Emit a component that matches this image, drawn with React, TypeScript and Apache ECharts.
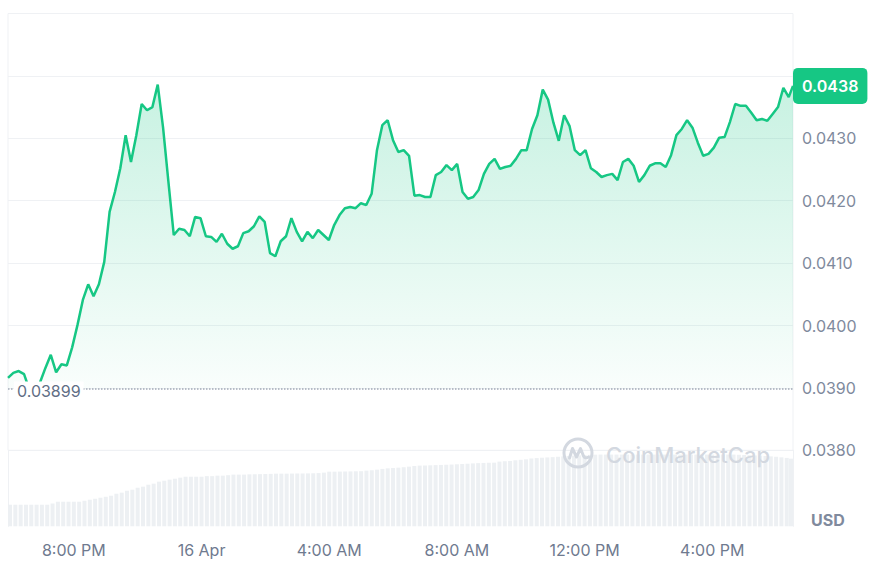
import React, { useEffect, useRef } from 'react';
import * as echarts from 'echarts';

const COLORS = {
  GREEN: '#16c784',
  GRID: '#eff1f4',
  LABEL: '#808a9d',
  DARK_LABEL: '#616e85',
  VOLUME: '#edf0f3',
  WATERMARK: '#d3d8e0',
};

// 15 Apr 18:00, one reading every 10 minutes, last reading at 18:28 next day
const START = new Date(2024, 3, 15, 18, 0).getTime();
const END = new Date(2024, 3, 16, 18, 28).getTime();
const STEP = 10 * 60 * 1000;
const MONTHS = ['Jan', 'Feb', 'Mar', 'Apr', 'May', 'Jun', 'Jul', 'Aug', 'Sep', 'Oct', 'Nov', 'Dec'];

const BASELINE = 0.03899;

const PRICE = [
  0.03916, 0.03924, 0.03927, 0.03922, 0.03897, 0.03893, 0.03909, 0.03932, 0.03953, 0.03925,
  0.03938, 0.03936, 0.03965, 0.04001, 0.04041, 0.04066, 0.04047, 0.04066, 0.04102, 0.04182,
  0.04214, 0.04252, 0.04305, 0.04262, 0.04305, 0.04355, 0.04345, 0.0435, 0.04386, 0.04317,
  0.0423, 0.04145, 0.04155, 0.04153, 0.04143, 0.04174, 0.04172, 0.04143, 0.04142, 0.04134,
  0.04147, 0.04131, 0.04123, 0.04127, 0.04148, 0.04151, 0.04159, 0.04175, 0.04166, 0.04116,
  0.04111, 0.04135, 0.04143, 0.04172, 0.0415, 0.04135, 0.0415, 0.0414, 0.04153, 0.04145,
  0.04137, 0.04161, 0.04177, 0.04188, 0.0419, 0.04188, 0.04196, 0.04193, 0.04211, 0.04281,
  0.04321, 0.04329, 0.04297, 0.04278, 0.04281, 0.04272, 0.04208, 0.04209, 0.04206, 0.04206,
  0.04241, 0.04246, 0.04257, 0.04249, 0.04259, 0.04214, 0.04203, 0.04206, 0.04217, 0.04243,
  0.04259, 0.04267, 0.04251, 0.04254, 0.04256, 0.04267, 0.04281, 0.04281, 0.04315, 0.04337,
  0.04378, 0.04362, 0.04325, 0.04296, 0.04337, 0.0432, 0.04281, 0.04273, 0.04281, 0.04252,
  0.04246, 0.04238, 0.04241, 0.04243, 0.04233, 0.04262, 0.04267, 0.04256, 0.0423, 0.04241,
  0.04256, 0.0426, 0.0426, 0.04254, 0.04273, 0.04305, 0.04315, 0.04329, 0.04317, 0.04293,
  0.04272, 0.04275, 0.04285, 0.04301, 0.04302, 0.04326, 0.04355, 0.04352, 0.04352, 0.04341,
  0.04329, 0.04331, 0.04328, 0.04339, 0.0435, 0.04381, 0.04366, 0.04384,
];

// volume in millions of USD
const VOLUME = [
  2.27, 2.27, 2.27, 2.27, 2.27, 2.27, 2.27, 2.27, 2.4, 2.59,
  2.59, 2.59, 2.59, 2.59, 2.69, 2.8, 2.9, 3.01, 3.11, 3.22,
  3.43, 3.54, 3.75, 3.85, 4.06, 4.17, 4.38, 4.49, 4.7, 4.8,
  4.91, 5.01, 5.12, 5.22, 5.22, 5.22, 5.22, 5.28, 5.28, 5.33,
  5.33, 5.38, 5.44, 5.44, 5.44, 5.47, 5.49, 5.49, 5.51, 5.52,
  5.54, 5.54, 5.54, 5.55, 5.56, 5.56, 5.57, 5.58, 5.6, 5.65,
  5.75, 5.75, 5.76, 5.77, 5.78, 5.79, 5.8, 5.86, 5.9, 5.96,
  6.04, 6.1, 6.14, 6.17, 6.22, 6.28, 6.35, 6.39, 6.4, 6.42,
  6.44, 6.46, 6.48, 6.5, 6.53, 6.56, 6.59, 6.62, 6.65, 6.67,
  6.69, 6.7, 6.81, 6.85, 6.88, 6.95, 7.0, 7.05, 7.14, 7.18,
  7.22, 7.25, 7.28, 7.32, 7.36, 7.4, 7.44, 7.47, 7.5, 7.52,
  7.54, 7.55, 7.55, 7.55, 7.55, 7.55, 7.55, 7.55, 7.55, 7.55,
  7.55, 7.55, 7.55, 7.55, 7.55, 7.55, 7.55, 7.55, 7.55, 7.55,
  7.55, 7.55, 7.55, 7.55, 7.55, 7.55, 7.55, 7.53, 7.5, 7.48,
  7.46, 7.44, 7.4, 7.36, 7.32, 7.26, 7.2, 7.12,
];

const timeAt = (i: number) => (i === PRICE.length - 1 ? END : START + i * STEP);

const LOGO_PATH =
  'M2 16 A14 14 0 1 1 30 16 A14 14 0 1 1 2 16 Z ' +
  'M7.5 21 L10.5 11.5 L14.5 20 L18.5 11.5 L21.5 19 Q23 22 26.5 20';
echarts.graphic.registerShape('cmcLogo', echarts.graphic.extendPath(LOGO_PATH, {}));

const formatTime = (v: number) => {
  const d = new Date(v);
  if (d.getMinutes() !== 0 || d.getHours() % 4 !== 0) return '';
  const h = d.getHours();
  if (h === 0) return `${d.getDate()} ${MONTHS[d.getMonth()]}`;
  const h12 = h % 12 === 0 ? 12 : h % 12;
  return `${h12}:00 ${h < 12 ? 'AM' : 'PM'}`;
};

const PriceChart: React.FC<{ width: number; height: number }> = ({ width, height }) => {
  const divEL = useRef<HTMLDivElement>(null);

  useEffect(() => {
    const instance = echarts.init(divEL.current as any, null, { renderer: 'svg' });
    const priceData = PRICE.map((p, i) => [timeAt(i), p]);
    const volumeData = VOLUME.map((v, i) => [timeAt(i), v]);
    const last = PRICE[PRICE.length - 1];

    const option: echarts.EChartsOption = {
      animation: false,
      textStyle: { fontFamily: 'Inter' },
      grid: [
        { left: 8, right: 81, top: 13.5, height: 436.8, show: true, borderColor: COLORS.GRID, borderWidth: 1 },
        { left: 8, right: 81, top: 450.3, height: 76 },
      ],
      xAxis: [
        { type: 'time', gridIndex: 0, min: START, max: END, show: false },
        {
          type: 'time',
          gridIndex: 1,
          min: START,
          max: END,
          minInterval: 4 * 3600 * 1000,
          maxInterval: 4 * 3600 * 1000,
          axisLine: { show: false },
          axisTick: { show: false },
          splitLine: { show: false },
          axisLabel: {
            color: '#6f7a8f',
            fontSize: 16,
            margin: 16,
            formatter: formatTime,
            showMinLabel: false,
            showMaxLabel: false,
          },
        },
      ],
      yAxis: [
        {
          type: 'value',
          gridIndex: 0,
          position: 'right',
          min: 0.038,
          max: 0.045,
          interval: 0.001,
          axisLine: { show: false },
          axisTick: { show: false },
          splitLine: { lineStyle: { color: COLORS.GRID } },
          axisLabel: {
            color: COLORS.LABEL,
            fontSize: 16,
            margin: 9,
            formatter: (v: number) => (v > 0.04395 ? '' : v.toFixed(4)),
          },
        },
        {
          type: 'value',
          gridIndex: 1,
          position: 'right',
          min: 0,
          max: 8,
          axisLine: { show: true, lineStyle: { color: COLORS.GRID } },
          axisTick: { show: false },
          axisLabel: { show: false },
          splitLine: { show: false },
        },
        {
          type: 'value',
          gridIndex: 1,
          position: 'left',
          min: 0,
          max: 8,
          axisLine: { show: true, lineStyle: { color: COLORS.GRID } },
          axisTick: { show: false },
          axisLabel: { show: false },
          splitLine: { show: false },
        },
      ],
      series: [
        {
          name: 'Price',
          type: 'line',
          xAxisIndex: 0,
          yAxisIndex: 0,
          data: priceData,
          showSymbol: false,
          color: COLORS.GREEN,
          lineStyle: { width: 2.5, color: COLORS.GREEN },
          areaStyle: {
            origin: BASELINE as any,
            color: new echarts.graphic.LinearGradient(0, 0, 0, 1, [
              { offset: 0, color: 'rgba(22,199,132,0.34)' },
              { offset: 1, color: 'rgba(22,199,132,0.03)' },
            ]),
          },
          markLine: {
            silent: true,
            symbol: 'none',
            precision: 5,
            data: [
              {
                yAxis: BASELINE,
                lineStyle: { type: 'dotted', color: '#a3aab8', width: 1.5 },
                label: {
                  position: 'insideStartTop',
                  distance: 6,
                  offset: [0, 17],
                  formatter: () => BASELINE.toFixed(5),
                  color: COLORS.DARK_LABEL,
                  fontSize: 16,
                  backgroundColor: '#fff',
                  padding: [1, 3],
                },
              },
              {
                yAxis: last,
                lineStyle: { color: 'transparent', width: 0 },
                label: {
                  position: 'end',
                  distance: 0,
                  formatter: () => last.toFixed(4),
                  color: '#fff',
                  fontSize: 16,
                  fontWeight: 600,
                  backgroundColor: COLORS.GREEN,
                  borderRadius: 5,
                  padding: [10, 9],
                },
              },
            ],
          },
        },
        {
          name: 'Volume',
          type: 'bar',
          xAxisIndex: 1,
          yAxisIndex: 1,
          data: volumeData,
          barWidth: 4,
          itemStyle: { color: COLORS.VOLUME },
          silent: true,
        },
      ],
      graphic: [
        {
          type: 'cmcLogo',
          x: 562,
          y: 437,
          z: 100,
          style: { fill: 'none', stroke: COLORS.WATERMARK, lineWidth: 3, lineCap: 'round', lineJoin: 'round' },
        } as any,
        {
          type: 'text',
          x: 606,
          y: 455,
          z: 100,
          style: {
            text: 'CoinMarketCap',
            fill: COLORS.WATERMARK,
            fontSize: 22,
            fontWeight: 500,
            fontFamily: 'Inter',
            verticalAlign: 'middle',
          },
        },
        {
          type: 'text',
          x: 811,
          y: 520,
          style: {
            text: 'USD',
            fill: COLORS.LABEL,
            fontSize: 16,
            fontWeight: 700,
            fontFamily: 'Inter',
            verticalAlign: 'middle',
          },
        },
      ],
    };

    instance.setOption(option);
    return () => {
      instance.dispose();
    };
  }, []);

  return <div ref={divEL} style={{ width, height, position: 'absolute', left: 0, top: 0 }}></div>;
};

export default function App() {
  return <PriceChart width={874} height={564} />;
}
